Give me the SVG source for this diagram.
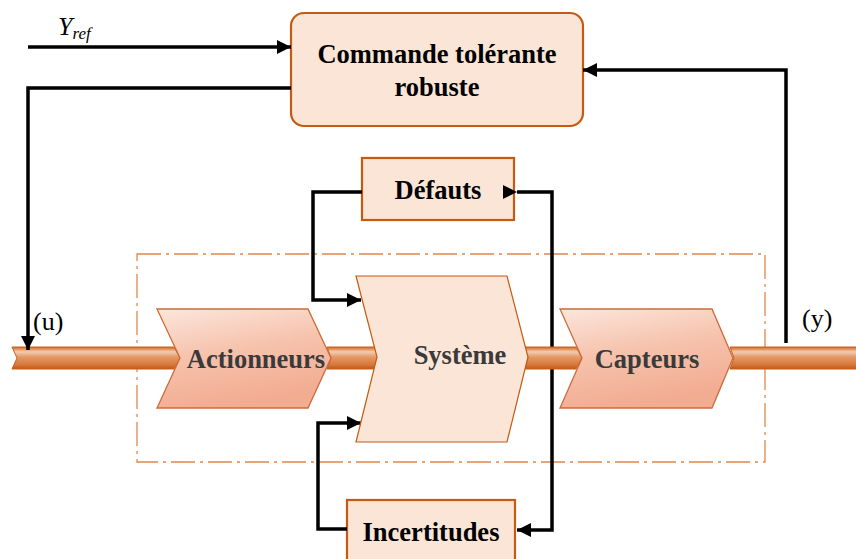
<svg xmlns="http://www.w3.org/2000/svg" width="856" height="559" viewBox="0 0 856 559">
  <defs>
    <style>
      .box { fill: #FBE5D6; stroke: #C55A11; stroke-width: 2.2; }
      .sys { fill: #FBE5D6; stroke: #C55A11; stroke-width: 1.2; }
      .chev { fill: url(#chevFill); stroke: #CC6B3A; stroke-width: 1.3; }
      .bar { fill: url(#barFill); stroke: #C8621E; stroke-width: 1; }
      .wire { fill: none; stroke: #000; stroke-width: 3.5; stroke-linejoin: miter; }
      .lbl { font-family: "Liberation Serif", "Times New Roman", serif; font-weight: bold; font-size: 26.5px; fill: #000; text-anchor: middle; }
      .lbl-grey { fill: #3A3A3A; }
      .sig { font-family: "Liberation Serif", "Times New Roman", serif; font-size: 26px; fill: #000; }
      .frame { fill: none; stroke: #E0874E; stroke-width: 1.3; stroke-dasharray: 24 5 3 5; }
    </style>
    <linearGradient id="chevFill" x1="0" y1="0" x2="0.3" y2="1">
      <stop offset="0" stop-color="#FCE6DC"/>
      <stop offset="0.5" stop-color="#F6C2AC"/>
      <stop offset="1" stop-color="#F2AC92"/>
    </linearGradient>
    <linearGradient id="barFill" x1="0" y1="0" x2="0" y2="1">
      <stop offset="0" stop-color="#D0651F"/>
      <stop offset="0.22" stop-color="#F3CDB2"/>
      <stop offset="0.45" stop-color="#E39A68"/>
      <stop offset="0.8" stop-color="#D9783C"/>
      <stop offset="1" stop-color="#BF5818"/>
    </linearGradient>
    <marker id="head" viewBox="0 0 10 10" refX="10" refY="5" markerWidth="14" markerHeight="14" markerUnits="userSpaceOnUse" orient="auto">
      <path d="M0,0 L10,5 L0,10 Z" fill="#000"/>
    </marker>
  </defs>

  <!-- boundary of the controlled process -->
  <rect class="frame" x="137" y="254" width="628" height="208"/>

  <!-- controller -->
  <g id="commande">
    <rect class="box" x="291" y="13" width="292" height="113" rx="13"/>
    <text class="lbl" x="437" y="63">Commande tolérante</text>
    <text class="lbl" x="437" y="96">robuste</text>
  </g>

  <g id="defauts">
    <rect class="box" x="362" y="158" width="152" height="62"/>
    <text class="lbl" x="438" y="199">Défauts</text>
  </g>

  <g id="incertitudes">
    <rect class="box" x="347" y="500" width="168" height="64"/>
    <text class="lbl" x="431" y="541">Incertitudes</text>
  </g>

  <g id="connectors">
    <!-- reference input -->
    <line class="wire" x1="28" y1="47" x2="291" y2="47" marker-end="url(#head)"/>
    <!-- measurement feedback -->
    <polyline class="wire" points="786,343 786,70 583,70" marker-end="url(#head)"/>
    <!-- faults and uncertainties acting on the system -->
    <polyline class="wire" points="362,192 313,192 313,300 361,300" marker-end="url(#head)"/>
    <polyline class="wire" points="347,529 318,529 318,423 361,423" marker-end="url(#head)"/>
    <polyline class="wire" points="517,192 552,192 552,530 517,530" marker-start="url(#head)" marker-end="url(#head)"/>
  </g>

  <!-- signal path bars -->
  <g id="bars">
    <polygon class="bar" points="12,347 174,347 180,358 174,369 12,369 17,358"/>
    <polygon class="bar" points="327,347 376,347 382,358 376,369 327,369 331,358"/>
    <polygon class="bar" points="524,347 576,347 582,358 576,369 524,369 528,358"/>
    <polygon class="bar" points="730,347 860,347 860,369 730,369 734,358"/>
  </g>

  <g id="systeme">
    <polygon class="sys" points="356,276 507,276 528,357 507,442 356,442 377,357"/>
    <text class="lbl lbl-grey" x="460" y="364">Système</text>
  </g>

  <g id="actionneurs">
    <polygon class="chev" points="157,309 308,309 331,358 308,408 157,408 180,358"/>
    <text class="lbl lbl-grey" x="256" y="368">Actionneurs</text>
  </g>

  <g id="capteurs">
    <polygon class="chev" points="560,309 712,309 733,358 712,408 560,408 582,358"/>
    <text class="lbl lbl-grey" x="647" y="368">Capteurs</text>
  </g>

  <!-- control output into the actuators -->
  <polyline class="wire" points="291,88 28,88 28,350" marker-end="url(#head)"/>

  <!-- signal labels -->
  <text class="sig" x="33" y="330">(u)</text>
  <text class="sig" x="802" y="327">(y)</text>
  <text class="sig" x="58" y="35" font-style="italic">Y<tspan font-size="17" dy="4">ref</tspan></text>
</svg>
